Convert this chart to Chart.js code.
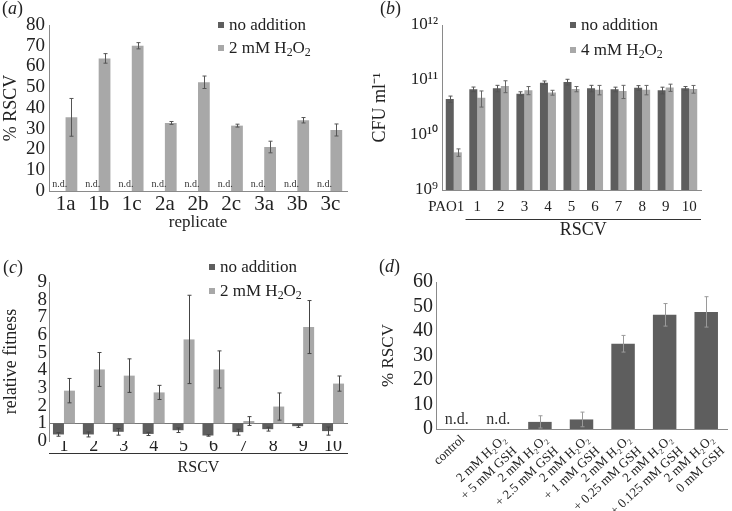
<!DOCTYPE html>
<html>
<head>
<meta charset="utf-8">
<script src="https://cdn.jsdelivr.net/npm/chart.js@4.4.1/dist/chart.umd.min.js"></script>
<style>
body { margin: 0; background: #fff; font-family: "Liberation Serif", serif; color: #222; }
#wrap { position: relative; width: 732px; height: 511px; overflow: hidden; }
.box { position: absolute; }
.plab { position: absolute; font-size: 18px; }
.leg { position: absolute; font-size: 17px; line-height: 22px; white-space: nowrap; }
.sq { display: inline-block; width: 6px; height: 6px; margin-right: 5px; vertical-align: middle; position: relative; top: -1px; }
sub { font-size: 70%; vertical-align: -3px; line-height: 0; }
</style>
</head>
<body>
<div id="wrap">
  <div class="box" style="left:0;top:0;width:366px;height:240px"><canvas id="chartA"></canvas></div>
  <div class="box" style="left:366px;top:0;width:366px;height:240px"><canvas id="chartB"></canvas></div>
  <div class="box" style="left:0;top:240px;width:366px;height:271px"><canvas id="chartC"></canvas></div>
  <div class="box" style="left:366px;top:240px;width:366px;height:271px"><canvas id="chartD"></canvas></div>

  <div class="plab" style="left:2px;top:-2px">(<i>a</i>)</div>
  <div class="plab" style="left:380px;top:-2px">(<i>b</i>)</div>
  <div class="plab" style="left:3px;top:257px">(<i>c</i>)</div>
  <div class="plab" style="left:379px;top:256px">(<i>d</i>)</div>

  <div class="leg" style="left:218px;top:14px"><span class="sq" style="background:#5e5e5e"></span>no addition</div>
  <div class="leg" style="left:218px;top:37px"><span class="sq" style="background:#a8a8a8"></span>2 mM H<sub>2</sub>O<sub>2</sub></div>
  <div class="leg" style="left:570px;top:14px"><span class="sq" style="background:#5e5e5e"></span>no addition</div>
  <div class="leg" style="left:570px;top:39px"><span class="sq" style="background:#a8a8a8"></span>4 mM H<sub>2</sub>O<sub>2</sub></div>
  <div class="leg" style="left:209px;top:256px"><span class="sq" style="background:#5e5e5e"></span>no addition</div>
  <div class="leg" style="left:209px;top:280px"><span class="sq" style="background:#a8a8a8"></span>2 mM H<sub>2</sub>O<sub>2</sub></div>
</div>
<script>
// (a) % RSCV per replicate
var aLabels = ['1a', '1b', '1c', '2a', '2b', '2c', '3a', '3b', '3c'];
var aNoAdd = [0, 0, 0, 0, 0, 0, 0, 0, 0];
var aH2O2 = [35.5, 63.9, 70.0, 32.8, 52.4, 31.5, 21.2, 34.1, 29.4];
var aH2O2Err = [9.1, 2.3, 1.5, 0.7, 3.0, 0.7, 2.8, 1.3, 2.9];

// (b) CFU per ml
var bLabels = ['PAO1', '1', '2', '3', '4', '5', '6', '7', '8', '9', '10'];
var bNoAdd = [4.5e10, 6.8e10, 7.05e10, 5.65e10, 8.95e10, 9.2e10, 7.05e10, 6.76e10, 7.2e10, 6.5e10, 7.05e10];
var bNoAddErr = [0.6e10, 0.65e10, 0.95e10, 0.45e10, 0.65e10, 1.1e10, 0.95e10, 0.65e10, 0.7e10, 0.9e10, 0.55e10];
var bH2O2 = [4.84e9, 4.77e10, 7.78e10, 6.5e10, 5.9e10, 6.86e10, 6.67e10, 6.3e10, 6.67e10, 7.3e10, 6.86e10];
var bH2O2Err = [0.75e9, 1.55e10, 1.9e10, 1.1e10, 0.6e10, 0.75e10, 1.3e10, 1.7e10, 1.3e10, 1.1e10, 1.1e10];
var bTicks = [1e9, 1e10, 1e11, 1e12];
var bTickLabels = ['10⁹', '10¹⁰', '10¹¹', '10¹²'];

// (c) relative fitness, bars hang from 1
var cLabels = ['1', '2', '3', '4', '5', '6', '7', '8', '9', '10'];
var cNoAdd = [0.37, 0.37, 0.52, 0.40, 0.61, 0.31, 0.50, 0.67, 0.84, 0.56];
var cNoAddErr = [0.1, 0.14, 0.19, 0.09, 0.13, 0.04, 0.17, 0.11, 0.07, 0.23];
var cH2O2 = [2.85, 4.05, 3.7, 2.75, 5.75, 4.05, 1.13, 1.95, 6.45, 3.25];
var cH2O2Err = [0.69, 0.96, 0.95, 0.4, 2.5, 1.05, 0.25, 0.77, 1.5, 0.43];

// (d) % RSCV with GSH
var dLabels = ['control',
  ['2 mM H₂O₂', '+ 5 mM GSH'],
  ['2 mM H₂O₂', '+ 2.5 mM GSH'],
  ['2 mM H₂O₂', '+ 1 mM GSH'],
  ['2 mM H₂O₂', '+ 0.25 mM GSH'],
  ['2 mM H₂O₂', '+ 0.125 mM GSH'],
  ['2 mM H₂O₂', '0 mM GSH']];
var dRSCV = [0, 0, 2.9, 3.9, 34.8, 46.6, 47.8];
var dErr = [0, 0, 2.5, 3.0, 3.4, 4.6, 6.2];
var dNotDetected = [true, true, false, false, false, false, false];

var DARK = '#5e5e5e', LIGHT = '#a8a8a8', AXIS = '#8a8a8a';
Chart.defaults.font.family = '"Liberation Serif", "Times New Roman", serif';
Chart.defaults.color = '#222';
Chart.defaults.animation = false;

// error bars drawn through the y scale
var errorBars = {
  id: 'errorBars',
  afterDatasetsDraw: function(chart) {
    var ctx = chart.ctx, y = chart.scales.y;
    chart.data.datasets.forEach(function(ds, i) {
      if (!ds.errors) return;
      chart.getDatasetMeta(i).data.forEach(function(bar, j) {
        var e = ds.errors[j];
        if (!e) return;
        var v = ds.values[j];
        var x = Math.round(bar.x) + 0.5;
        var y1 = y.getPixelForValue(v + e), y2 = y.getPixelForValue(v - e);
        ctx.save();
        ctx.strokeStyle = ds.errorColor;
        ctx.lineWidth = 1;
        ctx.beginPath();
        ctx.moveTo(x, y1); ctx.lineTo(x, y2);
        ctx.moveTo(x - 2, y1); ctx.lineTo(x + 2, y1);
        ctx.moveTo(x - 2, y2); ctx.lineTo(x + 2, y2);
        ctx.stroke();
        ctx.restore();
      });
    });
  }
};

// "n.d." above the axis for non-detected bars
var ndText = {
  id: 'ndText',
  afterDatasetsDraw: function(chart) {
    var ctx = chart.ctx, y = chart.scales.y;
    chart.data.datasets.forEach(function(ds, i) {
      if (!ds.nd) return;
      chart.getDatasetMeta(i).data.forEach(function(bar, j) {
        if (!ds.nd[j]) return;
        ctx.save();
        ctx.font = ds.ndFont;
        ctx.fillStyle = '#333';
        ctx.textAlign = 'center';
        ctx.textBaseline = 'bottom';
        ctx.fillText('n.d.', bar.x, y.getPixelForValue(0) - ds.ndGap);
        ctx.restore();
      });
    });
  }
};

// line under the RSCV categories plus its label
var rscvLine = {
  id: 'rscvLine',
  afterDraw: function(chart, args, o) {
    if (!o.text) return;
    var ctx = chart.ctx, x = chart.scales.x;
    var half = (x.getPixelForValue(1) - x.getPixelForValue(0)) / 2;
    var x1 = x.getPixelForValue(o.from) - half, x2 = chart.chartArea.right;
    var yy = Math.round(x.top + o.offset) + 0.5;
    ctx.save();
    ctx.strokeStyle = '#333';
    ctx.lineWidth = 1;
    ctx.beginPath(); ctx.moveTo(x1, yy); ctx.lineTo(x2, yy); ctx.stroke();
    ctx.font = o.font;
    ctx.fillStyle = '#222';
    ctx.textAlign = 'center';
    ctx.textBaseline = 'middle';
    ctx.fillText(o.text, (x1 + x2) / 2, yy + o.textGap);
    ctx.restore();
  }
};

function fixW(w) { return function(s) { s.width = w; }; }
function fixH(h) { return function(s) { s.height = h; }; }
var common = {
  responsive: true,
  maintainAspectRatio: false,
  events: []
};

new Chart(document.getElementById('chartA'), {
  type: 'bar',
  data: {
    labels: aLabels,
    datasets: [
      { data: aNoAdd, backgroundColor: DARK, nd: aNoAdd.map(function() { return true; }), ndFont: '10px "Liberation Serif"', ndGap: 2 },
      { data: aH2O2, values: aH2O2, errors: aH2O2Err, errorColor: '#555', backgroundColor: LIGHT }
    ]
  },
  options: Object.assign({}, common, {
    layout: { padding: { left: 0, top: 25, right: 19, bottom: 7 } },
    datasets: { bar: { categoryPercentage: 0.71, barPercentage: 1 } },
    plugins: { legend: { display: false }, tooltip: { enabled: false } },
    scales: {
      x: {
        grid: { display: false, drawTicks: false },
        border: { color: AXIS },
        ticks: { font: { size: 21 }, padding: 1 },
        title: { display: true, text: 'replicate', font: { size: 17 }, padding: { top: 0, bottom: 0 } },
        afterFit: fixH(42)
      },
      y: {
        min: 0, max: 80,
        grid: { display: false, drawTicks: false },
        border: { color: AXIS },
        ticks: { stepSize: 10, font: { size: 19 }, padding: 4, autoSkip: false },
        title: { display: true, text: '% RSCV', font: { size: 18 }, padding: { top: 0, bottom: 0 } },
        afterFit: fixW(49)
      }
    }
  }),
  plugins: [errorBars, ndText]
});

new Chart(document.getElementById('chartB'), {
  type: 'bar',
  data: {
    labels: bLabels,
    datasets: [
      { data: bNoAdd, values: bNoAdd, errors: bNoAddErr, errorColor: '#555', backgroundColor: DARK },
      { data: bH2O2, values: bH2O2, errors: bH2O2Err, errorColor: '#666', backgroundColor: LIGHT }
    ]
  },
  options: Object.assign({}, common, {
    layout: { padding: { left: 0, top: 25, right: 31, bottom: 0 } },
    datasets: { bar: { categoryPercentage: 0.68, barPercentage: 1 } },
    plugins: {
      legend: { display: false }, tooltip: { enabled: false },
      rscvLine: { text: 'RSCV', from: 1, offset: 29, textGap: 11, font: '18px "Liberation Serif"' }
    },
    scales: {
      x: {
        grid: { display: false, drawTicks: false },
        border: { color: AXIS },
        ticks: {
          font: { size: 15 }, padding: 8, autoSkip: false, maxRotation: 0, minRotation: 0,
          // the wide PAO1 label sits left of its bar pair
          callback: function(v, i) { var t = bLabels[i]; return i === 0 ? t + '\u2002\u2002' : t; }
        },
        afterFit: fixH(50)
      },
      y: {
        type: 'logarithmic',
        min: bTicks[0], max: bTicks[bTicks.length - 1],
        afterBuildTicks: function(s) { s.ticks = bTicks.map(function(v) { return { value: v }; }); },
        grid: { display: false, drawTicks: false },
        border: { color: AXIS },
        ticks: {
          font: { size: 17 }, padding: 4,
          callback: function(v) { return bTickLabels[bTicks.indexOf(v)]; }
        },
        title: { display: true, text: 'CFU ml⁻¹', font: { size: 18 }, padding: { top: 3, bottom: 0 } },
        afterFit: fixW(76)
      }
    }
  }),
  plugins: [errorBars, rscvLine]
});

new Chart(document.getElementById('chartC'), {
  type: 'bar',
  data: {
    labels: cLabels,
    datasets: [
      { data: cNoAdd.map(function(v) { return [1, v]; }), values: cNoAdd, errors: cNoAddErr, errorColor: '#444', backgroundColor: DARK },
      { data: cH2O2.map(function(v) { return [1, v]; }), values: cH2O2, errors: cH2O2Err, errorColor: '#444', backgroundColor: LIGHT }
    ]
  },
  options: Object.assign({}, common, {
    layout: { padding: { left: 0, top: 42, right: 18, bottom: 0 } },
    datasets: { bar: { categoryPercentage: 0.735, barPercentage: 1, borderSkipped: false } },
    plugins: {
      legend: { display: false }, tooltip: { enabled: false },
      rscvLine: { text: 'RSCV', from: 0, offset: 12, textGap: 14, font: '16px "Liberation Serif"' }
    },
    scales: {
      x: {
        grid: { display: false, drawTicks: false },
        border: { display: false },
        ticks: { font: { size: 18 }, padding: -6 },
        afterFit: fixH(70)
      },
      y: {
        min: 0, max: 9,
        grid: {
          drawTicks: false,
          color: function(c) { return c.tick && c.tick.value === 1 ? '#777' : 'rgba(0,0,0,0)'; }
        },
        border: { color: AXIS },
        ticks: { stepSize: 1, font: { size: 19 }, padding: 2, autoSkip: false },
        title: { display: true, text: 'relative fitness', font: { size: 18 }, padding: { top: 0, bottom: 0 } },
        afterFit: fixW(49)
      }
    }
  }),
  plugins: [errorBars, rscvLine]
});

new Chart(document.getElementById('chartD'), {
  type: 'bar',
  data: {
    labels: dLabels,
    datasets: [
      { data: dRSCV, values: dRSCV, errors: dErr, errorColor: '#9a9a9a', backgroundColor: DARK,
        nd: dNotDetected, ndFont: '16px "Liberation Serif"', ndGap: 1 }
    ]
  },
  options: Object.assign({}, common, {
    layout: { padding: { left: 0, top: 42, right: 5, bottom: 0 } },
    datasets: { bar: { categoryPercentage: 0.565, barPercentage: 1 } },
    plugins: { legend: { display: false }, tooltip: { enabled: false } },
    scales: {
      x: {
        grid: { display: false, drawTicks: false },
        border: { color: AXIS },
        ticks: { font: { size: 13 }, padding: 3, labelOffset: 6, minRotation: 43, maxRotation: 43, autoSkip: false },
        afterFit: fixH(82)
      },
      y: {
        min: 0, max: 60,
        grid: { display: false, drawTicks: false },
        border: { color: AXIS },
        ticks: { stepSize: 10, font: { size: 20 }, padding: 3, autoSkip: false },
        title: { display: true, text: '% RSCV', font: { size: 17 }, padding: { top: 12, bottom: 0 } },
        afterFit: fixW(70)
      }
    }
  }),
  plugins: [errorBars, ndText]
});
</script>
</body>
</html>
